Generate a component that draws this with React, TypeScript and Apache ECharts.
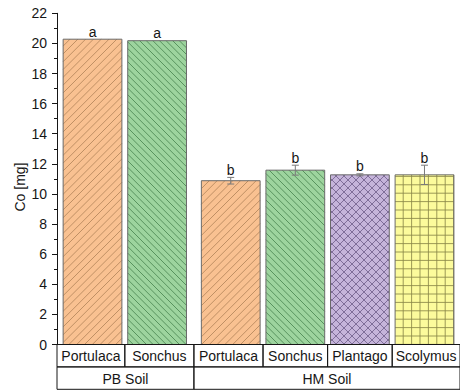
import React, { useEffect, useRef } from "react";
import * as echarts from "echarts";

// Co uptake per plant species, grouped by soil
const species = ["Portulaca", "Sonchus", "Portulaca", "Sonchus", "Plantago", "Scolymus"];
const soilOfBar = ["PB Soil", "PB Soil", "HM Soil", "HM Soil", "HM Soil", "HM Soil"];
const soils = ["PB Soil", "HM Soil"];
const coMeans = [20.28, 20.18, 10.88, 11.58, 11.27, 11.27];
const coErrors = [0, 0, 0.22, 0.33, 0.07, 0.64];
const letters = ["a", "a", "b", "b", "b", "b"];
const yTicks = { min: 0, max: 22, step: 2 };
const yTitle = "Co [mg]";

const FONT = '"Liberation Sans", Arial, sans-serif';
const INK = "#161616";

// x layout in "bar slot" units
const EDGE_PAD = 0.05;
const GROUP_GAP = 0.14;
const BAR_WIDTH = 0.91;

type Hatch = { fill: string; line: string; kind: "up" | "down" | "cross" | "grid"; step: number };
const speciesStyle: Record<string, Hatch> = {
  Portulaca: { fill: "#F9C191", line: "#B5865C", kind: "up", step: 7.8 },
  Sonchus: { fill: "#9DD49E", line: "#4B8653", kind: "down", step: 6.6 },
  Plantago: { fill: "#C5B4DA", line: "#72618D", kind: "cross", step: 8 },
  Scolymus: { fill: "#FCFB9C", line: "#8A8848", kind: "grid", step: 8.4 },
};

const groupIndex = soilOfBar.map((s) => soils.indexOf(s));
const centers = species.map((_, i) => EDGE_PAD + i + 0.5 + groupIndex[i] * GROUP_GAP);
const xMax = 2 * EDGE_PAD + species.length + (soils.length - 1) * GROUP_GAP;
const cellEdges = centers.map((c, i) => (i === 0 ? 0 : (centers[i - 1] + c) / 2)).concat([xMax]);

// table cells: [xStart, xEnd, row, labelIndex]
const speciesCells = species.map((_, i) => [cellEdges[i], cellEdges[i + 1], 0, i]);
const soilCells = soils.map((s, g) => {
  const members = soilOfBar.map((v, i) => (v === s ? i : -1)).filter((i) => i >= 0);
  return [cellEdges[members[0]], cellEdges[members[members.length - 1] + 1], 1, g];
});

function hatchSegments(x0: number, y0: number, x1: number, y1: number, h: Hatch) {
  const segs: number[][] = [];
  const s = h.step;
  const up = () => {
    for (let c = Math.ceil((x0 + y0) / s) * s; c < x1 + y1; c += s) {
      const xa = Math.max(x0, c - y1);
      const xb = Math.min(x1, c - y0);
      if (xb > xa) segs.push([xa, c - xa, xb, c - xb]);
    }
  };
  const down = () => {
    for (let c = Math.ceil((x0 - y1) / s) * s; c < x1 - y0; c += s) {
      const xa = Math.max(x0, c + y0);
      const xb = Math.min(x1, c + y1);
      if (xb > xa) segs.push([xa, xa - c, xb, xb - c]);
    }
  };
  if (h.kind === "up") up();
  else if (h.kind === "down") down();
  else if (h.kind === "cross") {
    up();
    down();
  } else {
    for (let x = Math.ceil(x0 / s) * s; x < x1; x += s) segs.push([x, y0, x, y1]);
    for (let y = Math.ceil(y0 / s) * s; y < y1; y += s) segs.push([x0, y, x1, y]);
  }
  return segs;
}

export default function App() {
  const ref = useRef<HTMLDivElement>(null);

  useEffect(() => {
    if (!ref.current) return;
    const chart = echarts.init(ref.current, undefined, { renderer: "svg" });

    const option: any = {
      animation: false,
      backgroundColor: "#ffffff",
      grid: { left: 57, right: -6, top: 13.3, bottom: 47.5, containLabel: false },
      graphic: [
        {
          type: "text",
          x: 20,
          y: 187,
          rotation: Math.PI / 2,
          style: {
            text: yTitle,
            fill: INK,
            fontSize: 14,
            fontFamily: FONT,
            align: "center",
            verticalAlign: "middle",
          },
        },
      ],
      xAxis: {
        type: "value",
        min: 0,
        max: xMax,
        axisLine: { show: true, lineStyle: { color: INK, width: 1 } },
        axisTick: { show: false },
        axisLabel: { show: false },
        splitLine: { show: false },
      },
      yAxis: {
        type: "value",
        min: yTicks.min,
        max: yTicks.max,
        interval: yTicks.step,
        axisLine: { show: true, lineStyle: { color: INK, width: 1 } },
        axisTick: { show: true, inside: false, length: 5, lineStyle: { color: INK } },
        minorTick: { show: true, splitNumber: 2, length: 3, lineStyle: { color: INK } },
        axisLabel: { color: INK, fontSize: 14, fontFamily: FONT, margin: 10 },
        splitLine: { show: false },
        minorSplitLine: { show: false },
      },
      series: [
        {
          type: "custom",
          name: "bars",
          z: 2,
          data: centers.map((c, i) => [c, coMeans[i], i]),
          renderItem: (params: any, api: any) => {
            const i = api.value(2);
            const st = speciesStyle[species[i]];
            const cx = api.value(0);
            const p0 = api.coord([cx - BAR_WIDTH / 2, api.value(1)]);
            const p1 = api.coord([cx + BAR_WIDTH / 2, 0]);
            const [x0, y0, x1, y1] = [p0[0], p0[1], p1[0], p1[1]];
            const children: any[] = [
              { type: "rect", shape: { x: x0, y: y0, width: x1 - x0, height: y1 - y0 }, style: { fill: st.fill } },
            ];
            hatchSegments(x0, y0, x1, y1, st).forEach((s) =>
              children.push({
                type: "line",
                shape: { x1: s[0], y1: s[1], x2: s[2], y2: s[3] },
                style: { stroke: st.line, lineWidth: 0.85 },
              })
            );
            children.push({
              type: "rect",
              shape: { x: x0, y: y0, width: x1 - x0, height: y1 - y0 },
              style: { fill: "none", stroke: "#6A6A6A", lineWidth: 1 },
            });
            return { type: "group", children };
          },
        },
        {
          type: "custom",
          name: "errors",
          z: 3,
          data: centers.map((c, i) => [c, coMeans[i], coErrors[i], i]),
          renderItem: (params: any, api: any) => {
            const cx = api.value(0);
            const m = api.value(1);
            const e = api.value(2);
            const i = api.value(3);
            const top = api.coord([cx, m + e]);
            const bot = api.coord([cx, m - e]);
            const children: any[] = [];
            if (e > 0) {
              const stroke = { stroke: "#7A7A7A", lineWidth: 1 };
              children.push(
                { type: "line", shape: { x1: top[0], y1: top[1], x2: bot[0], y2: bot[1] }, style: stroke },
                { type: "line", shape: { x1: top[0] - 3.5, y1: top[1], x2: top[0] + 3.5, y2: top[1] }, style: stroke },
                { type: "line", shape: { x1: bot[0] - 3.5, y1: bot[1], x2: bot[0] + 3.5, y2: bot[1] }, style: stroke }
              );
            }
            children.push({
              type: "text",
              x: top[0],
              y: top[1] - 0.5,
              style: {
                text: letters[i],
                fill: INK,
                fontSize: 14,
                fontFamily: FONT,
                align: "center",
                verticalAlign: "bottom",
              },
            });
            return { type: "group", children };
          },
        },
        {
          type: "custom",
          name: "table",
          z: 4,
          data: [...speciesCells, ...soilCells],
          renderItem: (params: any, api: any) => {
            const ROW_H = 22.4;
            const a = api.coord([api.value(0), 0]);
            const b = api.coord([api.value(1), 0]);
            const row = api.value(2);
            const k = api.value(3);
            const top = a[1] + row * ROW_H;
            const label = row === 0 ? species[k] : soils[k];
            return {
              type: "group",
              children: [
                {
                  type: "rect",
                  shape: { x: a[0], y: top, width: b[0] - a[0], height: ROW_H },
                  style: { fill: "none", stroke: INK, lineWidth: 1 },
                },
                {
                  type: "text",
                  x: (a[0] + b[0]) / 2,
                  y: top + ROW_H / 2 + 0.5,
                  style: {
                    text: label,
                    fill: INK,
                    fontSize: 14,
                    fontFamily: FONT,
                    align: "center",
                    verticalAlign: "middle",
                  },
                },
              ],
            };
          },
        },
      ],
    };

    chart.setOption(option);
    return () => chart.dispose();
  }, []);

  return (
    <div
      ref={ref}
      style={{ position: "fixed", left: 0, top: 0, width: 460, height: 392, overflow: "hidden" }}
    />
  );
}
